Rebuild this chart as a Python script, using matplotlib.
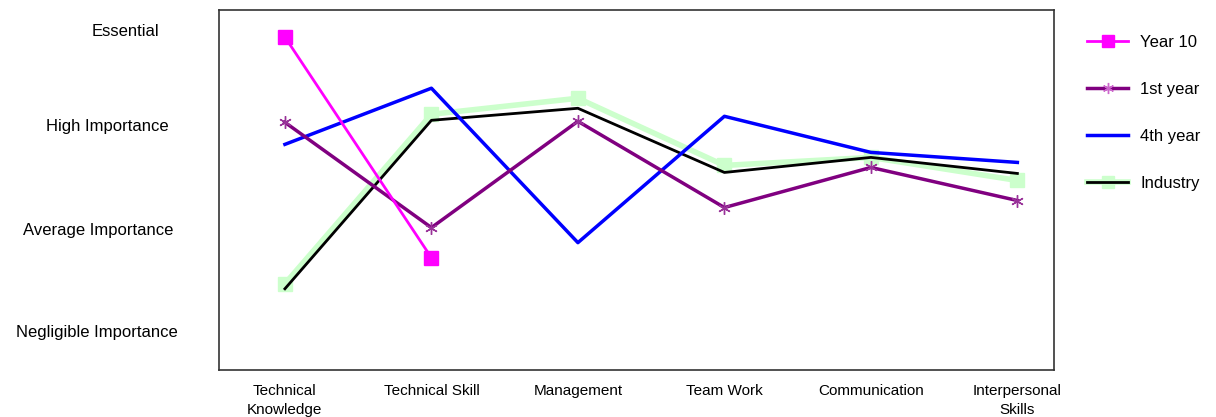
import matplotlib
matplotlib.use("Agg")
import matplotlib.pyplot as plt

plt.rcParams['font.family'] = ['Liberation Sans', 'DejaVu Sans']

categories = ["Technical\nKnowledge", "Technical Skill", "Management",
              "Team Work", "Communication", "Interpersonal\nSkills"]
levels = ["Negligible Importance", "Average Importance", "High Importance", "Essential"]

year10 = [3.95, 1.75]
first_year = [3.10, 2.05, 3.11, 2.25, 2.65, 2.32]
fourth_year = [2.88, 3.44, 1.90, 3.16, 2.80, 2.70]
industry_a = [1.49, 3.18, 3.34, 2.67, 2.75, 2.52]   # pale green series
industry_b = [1.44, 3.12, 3.24, 2.60, 2.75, 2.59]   # black line

fig = plt.figure(figsize=(12.16, 4.17), dpi=100)
ax = fig.add_axes([219 / 1216, 1 - 370 / 417, (1054 - 219) / 1216, 360 / 417])

x = list(range(len(categories)))

ax.plot(x, industry_a, color='#ccffcc', lw=4, marker='s', ms=10, zorder=2)
ax.plot(x, industry_b, color='black', lw=2, zorder=3)
ax.plot(x, fourth_year, color='#0000ff', lw=2.5, zorder=3)
ax.plot(x, first_year, color='#800080', lw=2.5, marker=(6, 2, 0), ms=9,
        mew=1, mec='#993399', zorder=4)
ax.plot(x[:len(year10)], year10, color='#ff00ff', lw=2, marker='s', ms=10, zorder=5)

ax.set_xlim(-0.45, 5.25)
ax.set_ylim(0.63, 4.22)
ax.set_xticks([])
ax.set_yticks([])
for s in ax.spines.values():
    s.set_color('#333333')
    s.set_linewidth(1.2)

# category labels under the frame
for i, lab in enumerate(categories):
    ax.text(i, -0.04, lab, transform=ax.get_xaxis_transform(), ha='center', va='top',
            fontsize=11, linespacing=1.4)

# importance level labels on the left (pixel centres)
label_cx = [97, 98, 107, 125]
label_cy = [333, 231, 127, 32]
for lab, cx, cy in zip(levels, label_cx, label_cy):
    fig.text(cx / 1216, 1 - cy / 417, lab, ha='center', va='center', fontsize=12)

# legend
h10, = ax.plot([], [], color='#ff00ff', lw=2, marker='s', ms=8)
h1, = ax.plot([], [], color='#800080', lw=2.5, marker=(6, 2, 0), ms=8, mec='#cc66cc')
h4, = ax.plot([], [], color='#0000ff', lw=2.5)
hga, = ax.plot([], [], color='#ccffcc', lw=4, marker='s', ms=8)
hgb, = ax.plot([], [], color='black', lw=2)
fig.legend([h10, h1, h4, (hga, hgb)], ["Year 10", "1st year", "4th year", "Industry"],
           loc='upper left', bbox_to_anchor=(1080 / 1216, 1 - 28 / 417),
           frameon=False, fontsize=12, labelspacing=1.93, handlelength=2.5,
           handletextpad=0.7, borderaxespad=0)

fig.savefig("out.png", dpi=100)
